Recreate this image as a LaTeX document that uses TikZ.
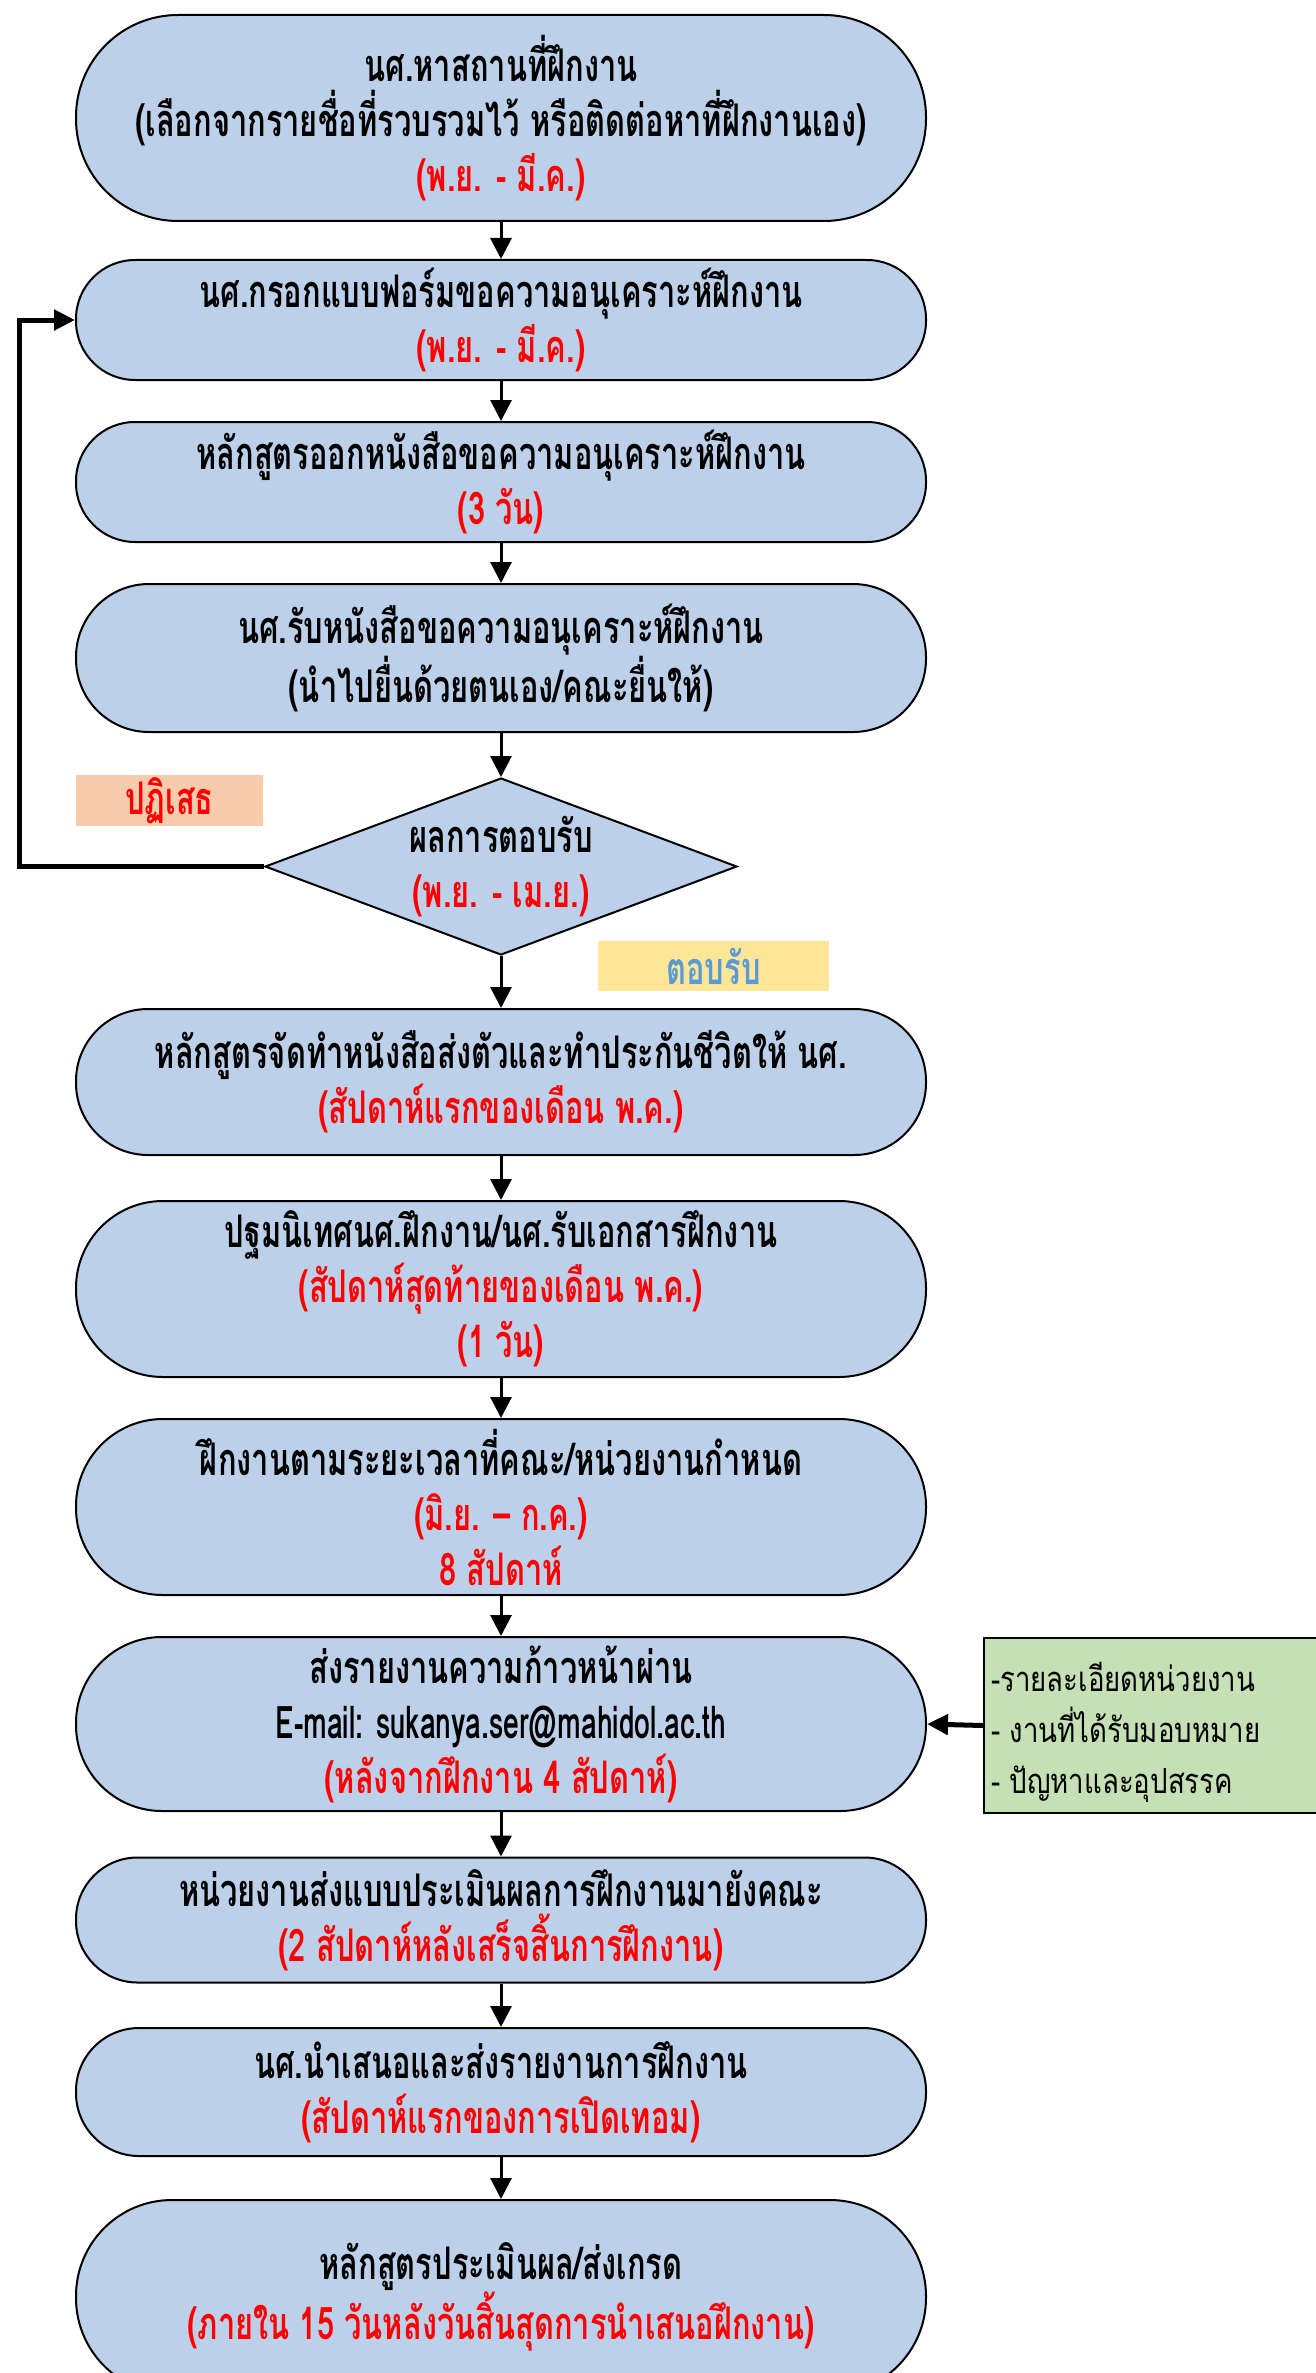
\documentclass[tikz,border=0pt]{standalone}
\usepackage{fontspec}
\usetikzlibrary{arrows.meta,shapes.geometric}
\newfontfamily\thai[Script=Thai,FakeStretch=0.685]{Loma}
\newfontfamily\thaimail[Script=Thai,FakeStretch=0.63]{Loma}
\newfontfamily\thainote[Script=Thai,FakeStretch=0.8]{Loma}
\definecolor{boxfill}{RGB}{189,208,233}
\definecolor{rejfill}{RGB}{248,203,173}
\definecolor{accfill}{RGB}{255,230,153}
\definecolor{acctext}{RGB}{91,155,213}
\definecolor{notefill}{RGB}{197,224,180}
\newcommand{\rd}[1]{\textcolor{red}{#1}}
\begin{document}
\begin{tikzpicture}[x=1pt,y=-1pt,
  proc/.style={draw=black, line width=2pt, fill=boxfill, minimum width=850pt,
    minimum height=#1, rounded corners=0.5*#1-1pt, inner sep=0pt, align=center,
    font=\fontsize{45}{55}\selectfont\thai\bfseries},
  flow/.style={line width=3pt, -{Triangle[length=21pt,width=21pt]}},
  thick flow/.style={line width=5pt, -{Triangle[length=21pt,width=20pt]}},
  tag/.style={inner sep=0pt, font=\fontsize{45}{55}\selectfont\thai\bfseries}
]
\useasboundingbox (0,0) rectangle (1315,2373);

\node[proc=206pt] (b1) at (501,118) {นศ.หาสถานที่ฝึกงาน\\(เลือกจากรายชื่อที่รวบรวมไว้ หรือติดต่อหาที่ฝึกงานเอง)\\\rd{(พ.ย. - มี.ค.)}};
\node[proc=120pt] (b2) at (501,320) {นศ.กรอกแบบฟอร์มขอความอนุเคราะห์ฝึกงาน\\\rd{(พ.ย. - มี.ค.)}};
\node[proc=120pt] (b3) at (501,482) {หลักสูตรออกหนังสือขอความอนุเคราะห์ฝึกงาน\\\rd{(3 วัน)}};
\node[proc=148pt] (b4) at (501,658) {นศ.รับหนังสือขอความอนุเคราะห์ฝึกงาน\\(นำไปยื่นด้วยตนเอง/คณะยื่นให้)};
\node[diamond, draw=black, line width=2pt, fill=boxfill, minimum width=472pt, minimum height=177pt, inner sep=0pt] (dec) at (501,866.5) {};
\node[tag, align=center] (dectext) at (501,866.5) {ผลการตอบรับ\\\rd{(พ.ย. - เม.ย.)}};
\node[tag, fill=rejfill, minimum width=187pt, minimum height=51pt, text=red] (rej) at (169.5,800.5) {ปฏิเสธ};
\node[tag, fill=accfill, minimum width=231pt, minimum height=50pt, text=acctext] (acc) at (713.5,966) {ตอบรับ};
\node[proc=146pt] (b5) at (501,1082) {หลักสูตรจัดทำหนังสือส่งตัวและทำประกันชีวิตให้ นศ.\\\rd{(สัปดาห์แรกของเดือน พ.ค.)}};
\node[proc=176pt] (b6) at (501,1289) {ปฐมนิเทศนศ.ฝึกงาน/นศ.รับเอกสารฝึกงาน\\\rd{(สัปดาห์สุดท้ายของเดือน พ.ค.)}\\\rd{(1 วัน)}};
\node[proc=176pt] (b7) at (501,1507) {ฝึกงานตามระยะเวลาที่คณะ/หน่วยงานกำหนด\\\rd{(มิ.ย. – ก.ค.)}\\\rd{8 สัปดาห์}};
\node[proc=174pt] (b8) at (501,1724) {ส่งรายงานความก้าวหน้าผ่าน\\{\thaimail\bfseries E-mail: sukanya.ser@mahidol.ac.th}\\\rd{(หลังจากฝึกงาน 4 สัปดาห์)}};
\node[draw=black, line width=2pt, fill=notefill, anchor=west, minimum height=175pt, minimum width=400pt, inner sep=0pt] (note) at (983,1725.5) {};
\node[anchor=west, inner sep=0pt, align=left, font=\fontsize{34.5}{51}\selectfont\thainote] (notetext) at (991,1732) {-รายละเอียดหน่วยงาน\\- งานที่ได้รับมอบหมาย\\- ปัญหาและอุปสรรค};
\node[proc=125pt] (b9) at (501,1920) {หน่วยงานส่งแบบประเมินผลการฝึกงานมายังคณะ\\\rd{(2 สัปดาห์หลังเสร็จสิ้นการฝึกงาน)}};
\node[proc=128pt] (b10) at (501,2092) {นศ.นำเสนอและส่งรายงานการฝึกงาน\\\rd{(สัปดาห์แรกของการเปิดเทอม)}};
\node[proc=194pt] (b11) at (501,2297) {หลักสูตรประเมินผล/ส่งเกรด\\\rd{(ภายใน 15 วันหลังวันสิ้นสุดการนำเสนอฝึกงาน)}};

\draw[flow] (b1) -- (b2);
\draw[flow] (b2) -- (b3);
\draw[flow] (b3) -- (b4);
\draw[flow] (b4) -- (dec);
\draw[flow] (dec) -- (b5);
\draw[flow] (b5) -- (b6);
\draw[flow] (b6) -- (b7);
\draw[flow] (b7) -- (b8);
\draw[flow] (b8) -- (b9);
\draw[flow] (b9) -- (b10);
\draw[flow] (b10) -- (b11);
\coordinate (loop) at (19.5,866.5);
\draw[thick flow] (dec.west) -- (loop) |- (b2.west);
\draw[thick flow] (note.west) -- (b8.east);
\end{tikzpicture}
\end{document}
